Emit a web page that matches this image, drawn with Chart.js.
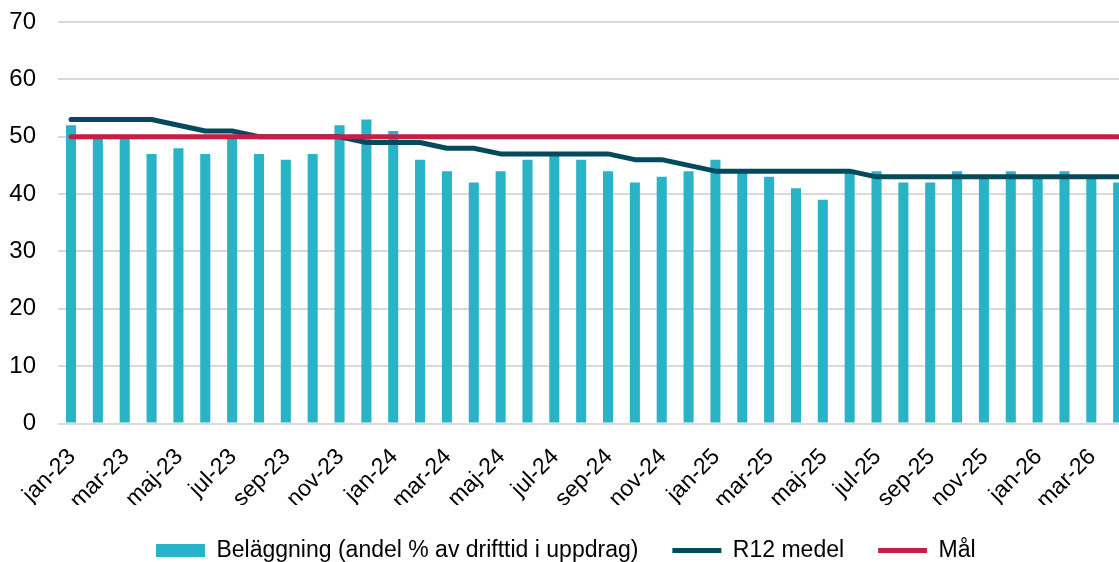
<!DOCTYPE html>
<html lang="sv">
<head>
<meta charset="utf-8">
<title>Beläggning</title>
<script src="https://cdn.jsdelivr.net/npm/chart.js@4/dist/chart.umd.min.js"></script>
<style>
  html, body { margin: 0; padding: 0; background: #fff; overflow: hidden; }
  #wrap { position: relative; width: 1140px; height: 572px; }
</style>
</head>
<body>
<div id="wrap"><canvas id="chart"></canvas></div>
<script>
  // ---------- data ----------
  const months = [
    "jan-23", "feb-23", "mar-23", "apr-23", "maj-23", "jun-23", "jul-23", "aug-23", "sep-23", "okt-23", "nov-23", "dec-23",
    "jan-24", "feb-24", "mar-24", "apr-24", "maj-24", "jun-24", "jul-24", "aug-24", "sep-24", "okt-24", "nov-24", "dec-24",
    "jan-25", "feb-25", "mar-25", "apr-25", "maj-25", "jun-25", "jul-25", "aug-25", "sep-25", "okt-25", "nov-25", "dec-25",
    "jan-26", "feb-26", "mar-26", "apr-26",
  ];
  const belaggning = [
    52, 50, 50, 47, 48, 47, 50, 47, 46, 47, 52, 53,
    51, 46, 44, 42, 44, 46, 47, 46, 44, 42, 43, 44,
    46, 44, 43, 41, 39, 44, 44, 42, 42, 44, 43, 44,
    43, 44, 43, 42,
  ];
  const r12 = [
    53, 53, 53, 53, 52, 51, 51, 50, 50, 50, 50, 49,
    49, 49, 48, 48, 47, 47, 47, 47, 47, 46, 46, 45,
    44, 44, 44, 44, 44, 44, 43, 43, 43, 43, 43, 43,
    43, 43, 43, 43,
  ];
  const mal = months.map(() => 50);

  const BAR = "#29b3c7";
  const DARK = "#034b5c";
  const RED = "#c41f45";
  const GRID = "#d9d9d9";
  const FONT = "'Liberation Sans', Arial, sans-serif";

  new Chart(document.getElementById("chart"), {
    data: {
      labels: months,
      datasets: [
        {
          type: "bar",
          label: "Beläggning (andel % av drifttid i uppdrag)",
          data: belaggning,
          backgroundColor: BAR,
          borderWidth: 0,
          barPercentage: 0.375,
          categoryPercentage: 1.0,
          pointStyle: "rect",
          order: 3,
        },
        {
          type: "line",
          label: "R12 medel",
          data: r12,
          borderColor: DARK,
          backgroundColor: DARK,
          borderWidth: 5,
          borderCapStyle: "round",
          borderJoinStyle: "round",
          pointRadius: 0,
          pointStyle: "line",
          tension: 0,
          order: 2,
        },
        {
          type: "line",
          label: "Mål",
          data: mal,
          borderColor: RED,
          backgroundColor: RED,
          borderWidth: 5,
          borderCapStyle: "round",
          pointRadius: 0,
          pointStyle: "line",
          tension: 0,
          order: 1,
        },
      ],
    },
    options: {
      responsive: true,
      maintainAspectRatio: false,
      animation: false,
      layout: { padding: { left: 0, right: 8.4, top: 22, bottom: 0 } },
      plugins: {
        tooltip: { enabled: false },
        legend: {
          position: "bottom",
          labels: {
            usePointStyle: true,
            pointStyleWidth: 49,
            boxHeight: 13,
            padding: 34,
            color: "#000",
            font: { family: FONT, size: 23 },
            sort: (a, b) => a.datasetIndex - b.datasetIndex,
          },
        },
      },
      scales: {
        x: {
          offset: true,
          grid: { display: false, drawTicks: false },
          border: { display: false },
          ticks: {
            autoSkip: false,
            minRotation: 45,
            maxRotation: 45,
            padding: 20,
            labelOffset: 1,
            color: "#000",
            font: { family: FONT, size: 23 },
            callback: (v, i) => (i % 2 === 0 ? months[i] : ""),
          },
          afterFit: (s) => {
            s.height = 81.5;
            s.paddingLeft = 0;
            s.paddingRight = 0;
          },
        },
        y: {
          min: 0,
          max: 70,
          grid: { color: GRID, lineWidth: 2, drawTicks: false },
          border: { display: false },
          ticks: {
            stepSize: 10,
            padding: 21.6,
            color: "#000",
            font: { family: FONT, size: 24 },
          },
          afterFit: (s) => {
            s.width = 57.6;
            s.paddingTop = 0;
            s.paddingBottom = 0;
          },
        },
      },
    },
  });
</script>
</body>
</html>
